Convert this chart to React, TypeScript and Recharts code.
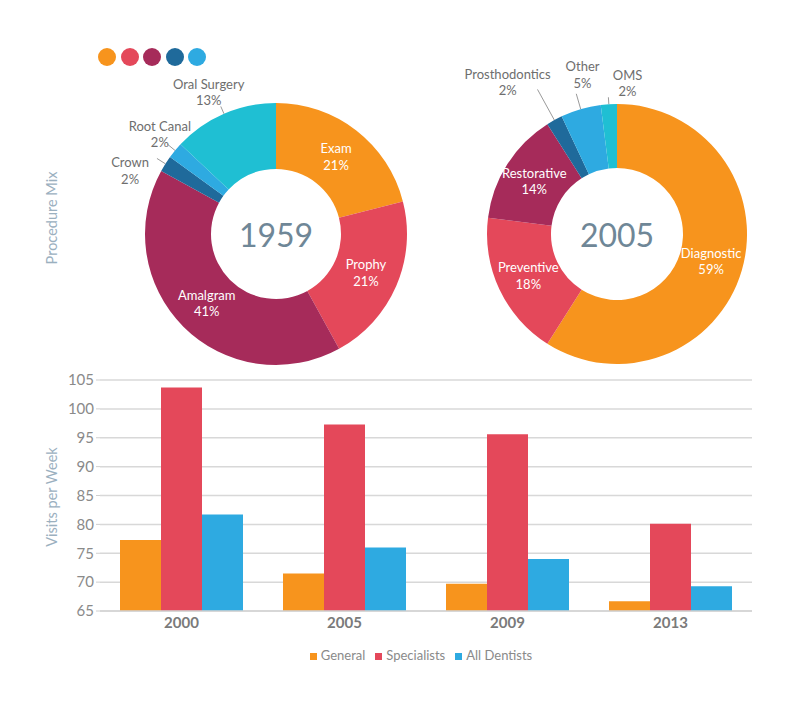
import React from 'react';
import { PieChart, Pie, Cell, BarChart, Bar, XAxis, YAxis, CartesianGrid, Legend } from 'recharts';

const FONT = 'Lato, "Open Sans", sans-serif';

// ---------- data ----------
const mix1959Names = ['Exam', 'Prophy', 'Amalgram', 'Crown', 'Root Canal', 'Oral Surgery'];
const mix1959Values = [21, 21, 41, 2, 2, 13];
const mix2005Names = ['Diagnostic', 'Preventive', 'Restorative', 'Prosthodontics', 'Other', 'OMS'];
const mix2005Values = [59, 18, 14, 2, 5, 2];
const pieTitles = ['1959', '2005'];

const years = ['2000', '2005', '2009', '2013'];
const seriesNames = ['General', 'Specialists', 'All Dentists'];
const generalVisits = [77.3, 71.5, 69.7, 66.7];
const specialistVisits = [103.7, 97.3, 95.6, 80.1];
const allDentistVisits = [81.7, 76.0, 74.0, 69.3];
const yTicks = [65, 70, 75, 80, 85, 90, 95, 100, 105];

// ---------- styles ----------
const ORANGE = '#F7941D';
const RED = '#E4485A';
const MAROON = '#A62B5A';
const NAVY = '#1F6A9B';
const SKY = '#2EAAE1';
const CYAN = '#1FBFD3';
const colors1959 = [ORANGE, RED, MAROON, NAVY, SKY, CYAN];
const colors2005 = [ORANGE, RED, MAROON, NAVY, SKY, CYAN];
const seriesColors = [ORANGE, RED, SKY];
const dotColors = [ORANGE, RED, MAROON, NAVY, SKY];

// outside label placement: radius of text centre, angular nudge (deg, clockwise), leader length
const outsideLabelStyle: Record<string, { r: number; shift: number; line: number }> = {
  'Oral Surgery': { r: 157, shift: -2, line: 8 },
  'Root Canal': { r: 153, shift: 1, line: 10 },
  Crown: { r: 159, shift: -9, line: 10 },
  Prosthodontics: { r: 187, shift: -7, line: 35 },
  Other: { r: 163, shift: 4, line: 16 },
  OMS: { r: 151, shift: 7.6, line: 7 },
};

const mix1959 = mix1959Names.map((name, i) => ({ name, value: mix1959Values[i] }));
const mix2005 = mix2005Names.map((name, i) => ({ name, value: mix2005Values[i] }));
const visits = years.map((year, i) => ({
  year,
  [seriesNames[0]]: generalVisits[i],
  [seriesNames[1]]: specialistVisits[i],
  [seriesNames[2]]: allDentistVisits[i],
}));

const RAD = Math.PI / 180;

const makePieLabel = (centerText: string) => (props: any) => {
  const { cx, cy, midAngle, innerRadius, outerRadius, index } = props;
  const name = props.payload?.name ?? props.name;
  const value = props.payload?.value ?? props.value;
  const center =
    index === 0 ? (
      <text
        x={cx}
        y={cy}
        textAnchor="middle"
        dominantBaseline="central"
        fill="#6f8797"
        fontSize={32}
        fontFamily={FONT}
      >
        {centerText}
      </text>
    ) : null;
  const out = outsideLabelStyle[name];
  if (!out) {
    const r = (innerRadius + outerRadius) / 2;
    const x = cx + r * Math.cos(-midAngle * RAD);
    const y = cy + r * Math.sin(-midAngle * RAD);
    return (
      <g>
        {center}
        <text x={x} y={y} textAnchor="middle" fill="#fff" fontSize={13} fontFamily={FONT}>
          <tspan x={x} y={y - 3.5}>{name}</tspan>
          <tspan x={x} y={y + 13}>{value}%</tspan>
        </text>
      </g>
    );
  }
  const a = midAngle - out.shift;
  const x = cx + out.r * Math.cos(-a * RAD);
  const y = cy + out.r * Math.sin(-a * RAD);
  const x1 = cx + outerRadius * Math.cos(-midAngle * RAD);
  const y1 = cy + outerRadius * Math.sin(-midAngle * RAD);
  const x2 = cx + (outerRadius + out.line) * Math.cos(-midAngle * RAD);
  const y2 = cy + (outerRadius + out.line) * Math.sin(-midAngle * RAD);
  return (
    <g>
      {center}
      <line x1={x1} y1={y1} x2={x2} y2={y2} stroke="#9a9a9a" strokeWidth={1} />
      <text x={x} y={y} textAnchor="middle" fill="#6e6e6e" fontSize={13} fontFamily={FONT}>
        <tspan x={x} y={y - 3.5}>{name}</tspan>
        <tspan x={x} y={y + 13}>{value}%</tspan>
      </text>
    </g>
  );
};

const VerticalTitle = ({ text, x, y }: { text: string; x: number; y: number }) => (
  <div
    style={{
      position: 'absolute',
      left: x,
      top: y,
      transform: 'translate(-50%, -50%) rotate(-90deg)',
      whiteSpace: 'nowrap',
      color: '#9bb0bf',
      fontSize: 14.5,
      fontFamily: FONT,
    }}
  >
    {text}
  </div>
);

export default function App() {
  return (
    <div style={{ position: 'absolute', left: 0, top: 0, width: 800, height: 710, background: '#fff', fontFamily: FONT }}>
      {dotColors.map((c, i) => (
        <div
          key={c}
          style={{
            position: 'absolute',
            left: 107 + i * 22.5 - 9,
            top: 57 - 9,
            width: 18,
            height: 18,
            borderRadius: '50%',
            background: c,
          }}
        />
      ))}
      <VerticalTitle text="Procedure Mix" x={51} y={218} />
      <VerticalTitle text="Visits per Week" x={51} y={497} />

      <div style={{ position: 'absolute', left: 0, top: 0 }}>
        <PieChart width={800} height={370} margin={{ top: 0, right: 0, bottom: 0, left: 0 }}>
          <Pie
            data={mix1959}
            dataKey="value"
            nameKey="name"
            cx={276}
            cy={234}
            innerRadius={65}
            outerRadius={131}
            startAngle={90}
            endAngle={-270}
            stroke="none"
            label={makePieLabel(pieTitles[0])}
            labelLine={false}
            isAnimationActive={false}
          >
            {mix1959.map((d, i) => (
              <Cell key={d.name} fill={colors1959[i]} />
            ))}
          </Pie>
          <Pie
            data={mix2005}
            dataKey="value"
            nameKey="name"
            cx={617}
            cy={234}
            innerRadius={66}
            outerRadius={130}
            startAngle={90}
            endAngle={-270}
            stroke="none"
            label={makePieLabel(pieTitles[1])}
            labelLine={false}
            isAnimationActive={false}
          >
            {mix2005.map((d, i) => (
              <Cell key={d.name} fill={colors2005[i]} />
            ))}
          </Pie>
        </PieChart>
      </div>

      <div style={{ position: 'absolute', left: 0, top: 360 }}>
        <BarChart
          width={800}
          height={330}
          data={visits}
          margin={{ top: 20, right: 48, left: 0, bottom: 27 }}
          barCategoryGap={20}
          barGap={0}
        >
          <CartesianGrid vertical={false} stroke="#d8d8d8" strokeWidth={1.5} />
          <XAxis
            dataKey="year"
            height={36}
            tickLine={false}
            tickSize={4}
            axisLine={{ stroke: '#d3d3d3', strokeWidth: 1.5 }}
            tick={{ fill: '#7a7a7a', fontSize: 15, fontWeight: 700, fontFamily: FONT }}
          />
          <YAxis
            width={100}
            domain={[65, 105]}
            ticks={yTicks}
            axisLine={false}
            tickSize={4}
            tickLine={{ stroke: '#cfcfcf' }}
            tick={{ fill: '#8a8a8a', fontSize: 15, fontFamily: FONT }}
          />
          <Legend
            verticalAlign="bottom"
            iconType="square"
            iconSize={7}
            itemSorter={(item: any) => seriesNames.indexOf(item.value)}
            wrapperStyle={{ fontSize: 13, fontFamily: FONT, left: 100, width: 652 }}
            formatter={(v: any) => <span style={{ color: '#8a8a8a' }}>{v}</span>}
          />
          {seriesNames.map((s, i) => (
            <Bar key={s} dataKey={s} fill={seriesColors[i]} isAnimationActive={false} />
          ))}
        </BarChart>
      </div>
    </div>
  );
}
